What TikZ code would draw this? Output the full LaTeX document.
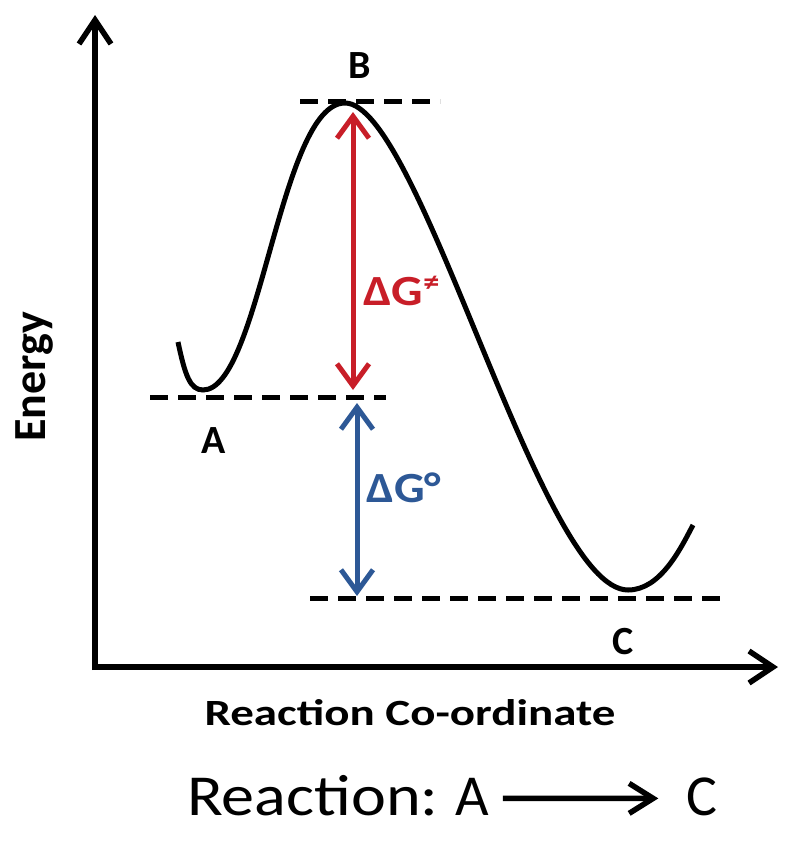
\documentclass[tikz,border=0pt]{standalone}
\usepackage{fontspec}
\usepackage{graphicx}
\setmainfont{Carlito}
\usetikzlibrary{arrows.meta}
\definecolor{redarr}{RGB}{200,30,40}
\definecolor{bluearr}{RGB}{45,88,150}
\begin{document}
\begin{tikzpicture}[x=1pt,y=-1pt,
  axtip/.style={-{Straight Barb[length=24pt,width=32pt,line width=5.5pt]}},
  axis/.style={line width=5.5pt,axtip},
  level/.style={line width=5pt,dash pattern=on 18pt off 10pt},
  curve/.style={line width=5pt},
  dimarr/.style={line width=5pt,{Straight Barb[length=22pt,width=32pt,line width=5pt]}-{Straight Barb[length=22pt,width=32pt,line width=5pt]}},
  lab/.style={font=\fontsize{40}{46}\selectfont\bfseries,anchor=base,inner sep=0pt},
  dlab/.style={font=\fontsize{43}{48}\selectfont\bfseries,anchor=base west,inner sep=0pt},
  big/.style={font=\fontsize{58}{64}\selectfont,inner sep=0pt}
]
\useasboundingbox (0,0) rectangle (800,846);
% axes
\coordinate (O) at (95,667);
\coordinate (ytop) at (95,15);
\coordinate (xend) at (778,667);
\draw[axis] (95,670) -- (ytop);
\draw[axis] (92,667) -- (xend);
% levels
\coordinate (b1) at (300,101); \coordinate (b2) at (440,101);
\coordinate (a1) at (150,397); \coordinate (a2) at (386,397);
\coordinate (c1) at (310,598); \coordinate (c2) at (722,598);
\draw[level] (b1) -- (b2);
\draw[level] (a1) -- (a2);
\draw[level] (c1) -- (c2);
% curve
\draw[curve] (178,342) .. controls (185,375) and (190,390) .. (203,390)
  .. controls (260,390) and (280,103) .. (345,103)
  .. controls (420,103) and (540,590) .. (628,590)
  .. controls (660,590) and (680,550) .. (693,525);
% energy arrows
\coordinate (r1) at (353,112); \coordinate (r2) at (353,390);
\coordinate (u1) at (357,403); \coordinate (u2) at (357,596);
\draw[dimarr,redarr] (r1) -- (r2);
\draw[dimarr,bluearr] (u1) -- (u2);
% labels
\node[lab] (B) at (360,78) {B};
\node[lab] (A) at (214,453) {A};
\node[lab] (C) at (623,654) {C};
\node[dlab,text=redarr] (dgs) at (363,305) {\scalebox{1.15}[1]{ΔG\raisebox{0.32em}{\fontsize{28}{30}\selectfont ≠}}};
\node[dlab,text=bluearr] (dgo) at (366,502) {\scalebox{1.12}[1]{ΔG°}};
\node[font=\fontsize{46}{50}\selectfont\bfseries,anchor=base,inner sep=0pt,rotate=90] (E) at (45,377) {Energy};
\node[font=\fontsize{37}{42}\selectfont\bfseries,anchor=base,inner sep=0pt] (X) at (410,725) {\scalebox{1.27}[1]{Reaction Co-ordinate}};
\node[big,anchor=base west] (rR) at (187,815) {\scalebox{1.14}[1]{Reaction:}};
\node[big,anchor=base] (rA) at (472,815) {A};
\node[big,anchor=base] (rC) at (702,815) {C};
\draw[line width=5.5pt,-{Straight Barb[length=24pt,width=30pt,line width=5.5pt]}] ([xshift=14pt,yshift=-2pt]rA.east) -- ([xshift=-28pt,yshift=-2pt]rC.west);
\end{tikzpicture}
\end{document}
